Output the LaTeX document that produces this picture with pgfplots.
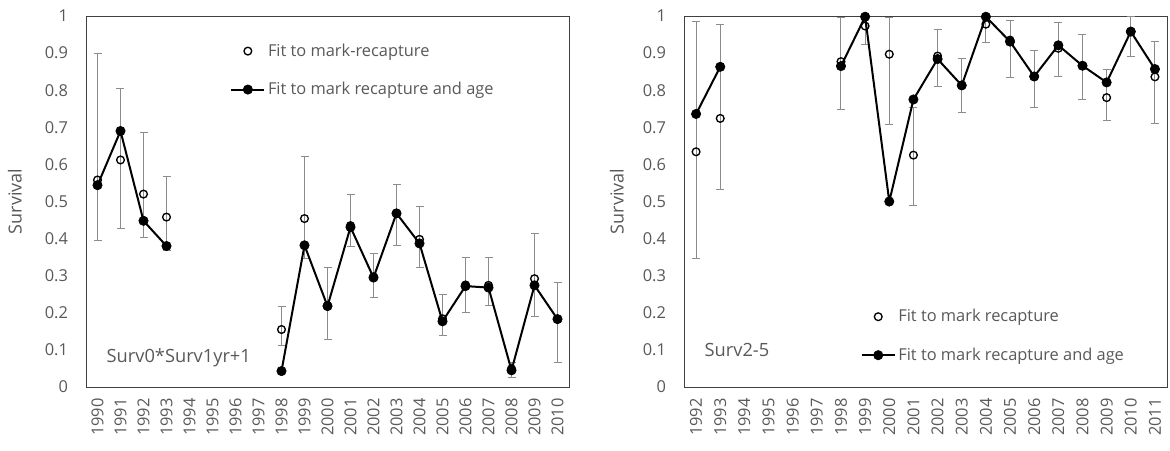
\documentclass[border=0pt]{standalone}
\usepackage{fontspec}
\setmainfont{Open Sans}
\usepackage{pgfplots}
\usepackage{pgfplotstable}
\pgfplotsset{compat=1.18}
\definecolor{txt}{RGB}{89,89,89}
\definecolor{frame}{RGB}{64,64,64}
\definecolor{errc}{RGB}{140,140,140}

% year, fit to mark-recapture (with CI lo/hi), fit to mark-recapture and age
\pgfplotstableread{
year fit   lo    hi    age
1990 0.558 0.396 0.899 0.544
1991 0.612 0.427 0.805 0.690
1992 0.520 0.402 0.686 0.448
1993 0.458 0.369 0.567 0.380
1995 nan   nan   nan   nan
1998 0.155 0.112 0.216 0.043
1999 0.454 0.346 0.620 0.382
2000 0.220 0.128 0.321 0.218
2001 0.435 0.378 0.519 0.431
2002 0.297 0.240 0.360 0.295
2003 0.468 0.382 0.547 0.468
2004 0.398 0.322 0.487 0.387
2005 0.184 0.139 0.249 0.177
2006 0.275 0.202 0.349 0.272
2007 0.274 0.220 0.348 0.268
2008 0.049 0.025 0.067 0.045
2009 0.292 0.189 0.414 0.274
2010 0.183 0.065 0.281 0.183
}\survA

\pgfplotstableread{
year fit   lo    hi    age
1992 0.634 0.346 0.985 0.736
1993 0.724 0.533 0.978 0.863
1995 nan   nan   nan   nan
1998 0.877 0.749 0.996 0.865
1999 0.973 0.924 1.000 0.998
2000 0.897 0.708 0.996 0.500
2001 0.625 0.488 0.754 0.775
2002 0.892 0.811 0.964 0.884
2003 0.813 0.740 0.885 0.813
2004 0.978 0.928 1.000 0.998
2005 0.935 0.833 0.987 0.931
2006 0.837 0.754 0.908 0.837
2007 0.913 0.837 0.982 0.921
2008 0.866 0.775 0.951 0.866
2009 0.780 0.717 0.855 0.821
2010 0.958 0.892 1.000 0.958
2011 0.836 0.710 0.932 0.857
}\survB

\pgfplotsset{
  surv/.style={
    scale only axis, width=362.25pt, height=278.25pt,
    anchor=south west, clip=false,
    ymin=0, ymax=1, ytick={0,0.1,0.2,0.3,0.4,0.5,0.6,0.7,0.8,0.9,1},
    major tick length=0pt,
    axis line style={frame, line width=0.75pt},
    /pgf/number format/assume math mode=true,
    tick label style={text=txt, font=\fontsize{12.3}{14}\selectfont},
    xticklabel style={rotate=90, anchor=east, xshift=-5pt, /pgf/number format/1000 sep={}},
    yticklabel style={xshift=-10pt},
    ylabel={Survival},
    every axis y label/.style={at={(rel axis cs:-0.147,0.5)}, rotate=90, anchor=center,
      text=txt, font=\fontsize{13.5}{16}\selectfont},
    legend style={draw=none, fill=none, anchor=north west, text=txt,
      font=\fontsize{12.3}{14}\selectfont, cells={anchor=west}, row sep=14pt},
    legend image code/.code={\draw[mark repeat=2,mark phase=2,##1]
      plot coordinates {(0pt,0pt) (12.4pt,0pt) (24.75pt,0pt)};},
  },
  fitplot/.style={only marks, mark=o, mark size=2.9pt,
    mark options={line width=1pt, fill=white, draw=black},
    error bars/y dir=both, error bars/y explicit,
    error bars/error bar style={errc, line width=0.75pt},
    error bars/error mark options={rotate=90, errc, line width=0.75pt, mark size=3pt}},
  ageplot/.style={black, line width=1.5pt, mark=*, mark size=3.5pt,
    mark options={line width=0.5pt, solid}, unbounded coords=jump},
}

\begin{document}
\begin{tikzpicture}
\path[use as bounding box] (0pt,0pt) rectangle (877.5pt,-337.5pt);

\begin{axis}[surv, at={(64.5pt,-290.25pt)},
  xmin=1989.5, xmax=2010.5, xtick={1990,1991,...,2010},
  legend style={at={(rel axis cs:0.29,0.94)}}]
\addplot[fitplot] table[x=year, y=fit,
  y error plus expr=\thisrow{hi}-\thisrow{fit},
  y error minus expr=\thisrow{fit}-\thisrow{lo}] {\survA};
\addlegendentry{Fit to mark-recapture}
\addplot[ageplot] table[x=year, y=age] {\survA};
\addlegendentry{Fit to mark recapture and age}
\node[anchor=west, text=txt, font=\fontsize{13.7}{16}\selectfont]
  at (rel axis cs:0.033,0.078) {Surv0*Surv1yr+1};
\end{axis}

\begin{axis}[surv, at={(513pt,-290.25pt)},
  xmin=1991.5, xmax=2011.5, xtick={1992,1993,...,2011},
  every axis y label/.append style={at={(rel axis cs:-0.139,0.5)}},
  legend style={at={(rel axis cs:0.357,0.224)}}]
\addplot[fitplot] table[x=year, y=fit,
  y error plus expr=\thisrow{hi}-\thisrow{fit},
  y error minus expr=\thisrow{fit}-\thisrow{lo}] {\survB};
\addlegendentry{Fit to mark recapture}
\addplot[ageplot] table[x=year, y=age] {\survB};
\addlegendentry{Fit to mark recapture and age}
\node[anchor=west, text=txt, font=\fontsize{13.7}{16}\selectfont]
  at (rel axis cs:0.033,0.1) {Surv2-5};
\end{axis}
\end{tikzpicture}
\end{document}
